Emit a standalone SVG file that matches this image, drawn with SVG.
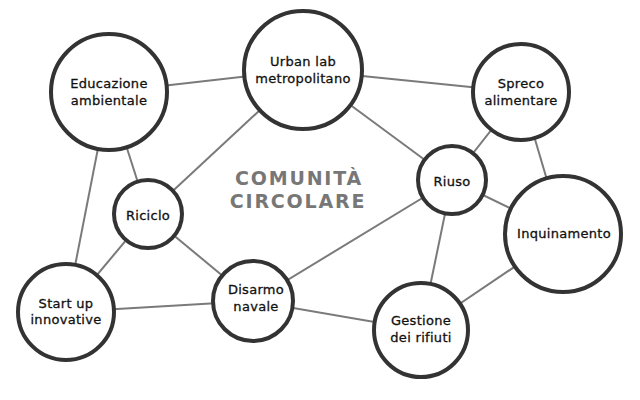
<svg xmlns="http://www.w3.org/2000/svg" width="640" height="400" viewBox="0 0 640 400">
<style>
.edge{stroke:#7a7a7a;stroke-width:2;fill:none}
.node circle{fill:#fff;stroke:#333;stroke-width:4}
.node text{font-family:"DejaVu Sans",sans-serif;font-size:13px;fill:#111;stroke:#111;stroke-width:0.3;text-anchor:middle;letter-spacing:0.3px}
.title{font-family:"DejaVu Sans",sans-serif;font-weight:bold;font-size:19px;fill:#777;text-anchor:middle;letter-spacing:1.8px}
</style>
<rect width="640" height="400" fill="#fff"/>
<g id="edges">
<line class="edge" x1="109" y1="92" x2="303" y2="70"/>
<line class="edge" x1="109" y1="92" x2="148" y2="214"/>
<line class="edge" x1="109" y1="92" x2="66" y2="312"/>
<line class="edge" x1="303" y1="70" x2="148" y2="214"/>
<line class="edge" x1="303" y1="70" x2="521" y2="92"/>
<line class="edge" x1="303" y1="70" x2="452" y2="180"/>
<line class="edge" x1="521" y1="92" x2="452" y2="180"/>
<line class="edge" x1="521" y1="92" x2="563" y2="234"/>
<line class="edge" x1="452" y1="180" x2="563" y2="234"/>
<line class="edge" x1="452" y1="180" x2="253" y2="301"/>
<line class="edge" x1="452" y1="180" x2="421" y2="330"/>
<line class="edge" x1="563" y1="234" x2="421" y2="330"/>
<line class="edge" x1="148" y1="214" x2="66" y2="312"/>
<line class="edge" x1="148" y1="214" x2="253" y2="301"/>
<line class="edge" x1="66" y1="312" x2="253" y2="301"/>
<line class="edge" x1="253" y1="301" x2="421" y2="330"/>
</g>
<text class="title" x="299" y="185">COMUNITÀ</text>
<text class="title" x="298" y="208">CIRCOLARE</text>
<g id="educazione" class="node"><circle cx="109" cy="92" r="58"/><text x="109" y="88">Educazione</text><text x="109" y="105">ambientale</text></g>
<g id="urbanlab" class="node"><circle cx="303" cy="70" r="59"/><text x="303" y="66">Urban lab</text><text x="303" y="83">metropolitano</text></g>
<g id="spreco" class="node"><circle cx="521" cy="92" r="48"/><text x="521" y="88">Spreco</text><text x="521" y="105">alimentare</text></g>
<g id="riuso" class="node"><circle cx="452" cy="180" r="34"/><text x="452" y="186">Riuso</text></g>
<g id="riciclo" class="node"><circle cx="148" cy="214" r="34"/><text x="148" y="220">Riciclo</text></g>
<g id="inquinamento" class="node"><circle cx="563" cy="234" r="58"/><text x="564" y="238">Inquinamento</text></g>
<g id="startup" class="node"><circle cx="66" cy="312" r="48"/><text x="66" y="308">Start up</text><text x="66" y="324">innovative</text></g>
<g id="disarmo" class="node"><circle cx="253" cy="301" r="40"/><text x="256" y="294">Disarmo</text><text x="256" y="311">navale</text></g>
<g id="gestione" class="node"><circle cx="421" cy="330" r="47"/><text x="421" y="325">Gestione</text><text x="421" y="342">dei rifiuti</text></g>
</svg>
